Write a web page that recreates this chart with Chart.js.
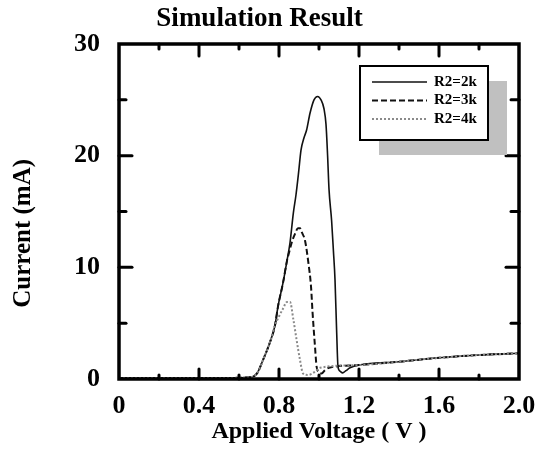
<!DOCTYPE html>
<html>
<head>
<meta charset="utf-8">
<script src="https://cdn.jsdelivr.net/npm/chart.js@4/dist/chart.umd.min.js"></script>
<style>
  body { margin: 0; background: #fff; }
</style>
</head>
<body>
<canvas id="chart" width="550" height="452"></canvas>
<script>
// Values: voltage (V) and current (mA) per curve
const seriesNames = ['R2=2k', 'R2=3k', 'R2=4k'];

const volt2k = [0, 0.3, 0.55, 0.65, 0.69, 0.72, 0.755, 0.78, 0.795, 0.82, 0.84, 0.855, 0.872, 0.885, 0.898, 0.91, 0.925, 0.938, 0.955, 0.975, 0.993, 1.01, 1.025, 1.035, 1.043, 1.05, 1.063, 1.072, 1.08, 1.088, 1.095, 1.105, 1.118, 1.135, 1.155, 1.2, 1.4, 1.6, 1.8, 2.0];
const curr2k = [0.1, 0.1, 0.1, 0.15, 0.5, 1.7, 3.3, 4.8, 6.5, 8.6, 10.6, 12.2, 14.9, 16.5, 18.5, 20.5, 21.6, 22.3, 23.8, 25.0, 25.3, 25.0, 24.2, 22.8, 20.0, 17.0, 14.2, 11.5, 8.9, 4.4, 1.1, 0.7, 0.55, 0.75, 1.0, 1.25, 1.55, 1.9, 2.15, 2.3];

const volt3k = [0, 0.3, 0.55, 0.65, 0.69, 0.72, 0.755, 0.78, 0.795, 0.82, 0.84, 0.85, 0.865, 0.88, 0.895, 0.905, 0.915, 0.93, 0.947, 0.96, 0.968, 0.98, 0.988, 1.0, 1.013, 1.03, 1.05, 1.2, 1.4, 1.6, 1.8, 2.0];
const curr3k = [0.1, 0.1, 0.1, 0.15, 0.5, 1.7, 3.3, 4.8, 6.5, 8.6, 10.6, 11.3, 12.3, 13.0, 13.5, 13.5, 13.1, 12.4, 10.4, 8.3, 5.9, 2.9, 1.1, 0.6, 0.5, 0.8, 1.0, 1.25, 1.55, 1.9, 2.15, 2.3];

const volt4k = [0, 0.3, 0.55, 0.65, 0.69, 0.72, 0.755, 0.78, 0.8, 0.82, 0.84, 0.855, 0.872, 0.888, 0.905, 0.92, 0.945, 0.98, 1.005, 1.2, 1.4, 1.6, 1.8, 2.0];
const curr4k = [0.1, 0.1, 0.1, 0.15, 0.5, 1.7, 3.3, 4.8, 5.6, 6.3, 6.9, 6.9, 5.3, 3.5, 1.7, 0.5, 0.36, 0.65, 1.0, 1.25, 1.55, 1.9, 2.15, 2.3];

const xTicks = [0, 0.4, 0.8, 1.2, 1.6, 2.0];
const xMinorTicks = [0.2, 0.6, 1.0, 1.4, 1.8];
const yTicks = [0, 10, 20, 30];
const yMinorTicks = [5, 15, 25];

const serif = '"Liberation Serif", "Times New Roman", serif';

function pts(xs, ys) {
  return xs.map((x, i) => ({ x: x, y: ys[i] }));
}

// frame + inward ticks on all four sides
const framePlugin = {
  id: 'frame',
  afterDatasetsDraw(chart) {
    const { ctx, chartArea: a, scales: { x, y } } = chart;
    ctx.save();
    ctx.strokeStyle = '#000';
    ctx.lineCap = 'round';
    ctx.lineWidth = 3;
    const tick = (x1, y1, x2, y2) => { ctx.beginPath(); ctx.moveTo(x1, y1); ctx.lineTo(x2, y2); ctx.stroke(); };
    xTicks.slice(1, -1).forEach(v => {
      const px = x.getPixelForValue(v);
      tick(px, a.bottom, px, a.bottom - 10);
      tick(px, a.top, px, a.top + 12);
    });
    xMinorTicks.forEach(v => {
      const px = x.getPixelForValue(v);
      tick(px, a.bottom, px, a.bottom - 4);
      tick(px, a.top, px, a.top + 5);
    });
    yTicks.slice(1, -1).forEach(v => {
      const py = y.getPixelForValue(v);
      tick(a.left, py, a.left + 13, py);
      tick(a.right, py, a.right - 13, py);
    });
    yMinorTicks.forEach(v => {
      const py = y.getPixelForValue(v);
      tick(a.left, py, a.left + 7, py);
      tick(a.right, py, a.right - 8, py);
    });
    ctx.lineCap = 'butt';
    ctx.lineWidth = 3.5;
    ctx.strokeRect(a.left, a.top, a.right - a.left, a.bottom - a.top);
    ctx.restore();
  }
};

// boxed legend with grey drop shadow, top right of the plot
const legendPlugin = {
  id: 'boxLegend',
  afterDraw(chart) {
    const { ctx, chartArea: a } = chart;
    const bx = a.right - 159, by = a.top + 22, bw = 128, bh = 74;
    ctx.save();
    ctx.fillStyle = '#c0c0c0';
    ctx.fillRect(bx + 19, by + 15, bw, bh);
    ctx.fillStyle = '#fff';
    ctx.fillRect(bx, by, bw, bh);
    ctx.strokeStyle = '#000';
    ctx.lineWidth = 2;
    ctx.strokeRect(bx, by, bw, bh);
    ctx.font = 'bold 15px ' + serif;
    ctx.textBaseline = 'middle';
    chart.data.datasets.forEach((ds, i) => {
      const ly = by + 16 + i * 18.5;
      ctx.beginPath();
      ctx.setLineDash(ds.borderDash || []);
      ctx.strokeStyle = ds.borderColor;
      ctx.lineWidth = ds.borderWidth;
      ctx.moveTo(bx + 12, ly);
      ctx.lineTo(bx + 67, ly);
      ctx.stroke();
      ctx.setLineDash([]);
      ctx.fillStyle = '#000';
      ctx.fillText(ds.label, bx + 74, ly);
    });
    ctx.restore();
  }
};

new Chart(document.getElementById('chart'), {
  type: 'line',
  data: {
    datasets: [
      { label: seriesNames[0], data: pts(volt2k, curr2k), borderColor: '#111', borderWidth: 1.6, order: 2 },
      { label: seriesNames[1], data: pts(volt3k, curr3k), borderColor: '#111', borderWidth: 2, borderDash: [6, 3], order: 1 },
      { label: seriesNames[2], data: pts(volt4k, curr4k), borderColor: '#8a8a8a', borderWidth: 2, borderDash: [2, 2], order: 0 }
    ]
  },
  options: {
    responsive: false,
    animation: false,
    elements: { point: { radius: 0 }, line: { cubicInterpolationMode: 'monotone', fill: false } },
    layout: { padding: { left: 0, right: 31, top: 0, bottom: 0 } },
    plugins: {
      legend: { display: false },
      tooltip: { enabled: false },
      title: {
        display: true,
        text: 'Simulation Result',
        color: '#000',
        font: { family: serif, size: 27, weight: 'bold' },
        padding: { top: 3, bottom: 8.6 }
      }
    },
    scales: {
      x: {
        type: 'linear',
        min: 0,
        max: 2,
        afterBuildTicks: s => { s.ticks = xTicks.map(v => ({ value: v })); },
        afterFit: s => { s.height = 73; },
        grid: { display: false, drawTicks: false },
        border: { display: false },
        ticks: {
          color: '#000',
          padding: 12,
          maxRotation: 0,
          font: { family: serif, size: 26, weight: 'bold' },
          callback: v => (v === 0 ? '0' : v.toFixed(1))
        },
        title: {
          display: true,
          text: 'Applied Voltage ( V )',
          color: '#000',
          font: { family: serif, size: 24, weight: 'bold' },
          padding: { top: 0, bottom: 6 }
        }
      },
      y: {
        min: 0,
        max: 30,
        afterBuildTicks: s => { s.ticks = yTicks.map(v => ({ value: v })); },
        afterFit: s => { s.width = 119; },
        grid: { display: false, drawTicks: false },
        border: { display: false },
        ticks: {
          color: '#000',
          padding: 19,
          font: { family: serif, size: 26, weight: 'bold' }
        },
        title: {
          display: true,
          text: 'Current (mA)       ',
          color: '#000',
          font: { family: serif, size: 25, weight: 'bold' },
          padding: { top: 9, bottom: 0 }
        }
      }
    }
  },
  plugins: [framePlugin, legendPlugin]
});
</script>
</body>
</html>
